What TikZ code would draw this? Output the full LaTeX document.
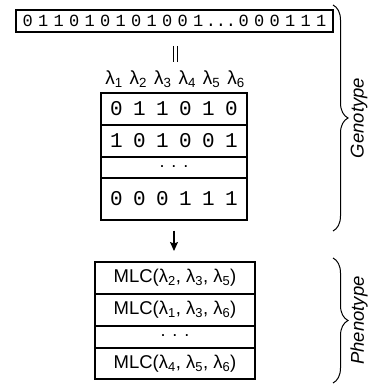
\documentclass[tikz,border=0pt]{standalone}
\usepackage{fontspec}
\setmainfont{Liberation Sans}
\newfontfamily\bitfont{Liberation Mono}
\usetikzlibrary{decorations.pathreplacing,arrows.meta}
\makeatletter
\newcommand\spacedchars[2]{\def\spc@w{#1}\spc@loop#2\relax}
\def\spc@loop#1{\ifx#1\relax\else\makebox[\spc@w]{#1}\expandafter\spc@loop\fi}
\makeatother
\newcommand\lam[1]{\makebox[24.4pt]{λ\textsubscript{#1}}}
\tikzset{
  box/.style={draw, line width=1.1pt, inner sep=0pt},
  genrow/.style={box, minimum width=146pt},
  phenrow/.style={box, minimum width=160pt},
  bits/.style={font=\bitfont\fontsize{21}{23}\selectfont},
  mlc/.style={font=\fontsize{18.5}{20}\selectfont},
  side/.style={font=\itshape\fontsize{18.5}{20}\selectfont, rotate=90},
  brc/.style={decorate, decoration={brace, amplitude=15pt}, line width=1pt},
}
\begin{document}
\begin{tikzpicture}[x=1pt, y=-1pt]
\useasboundingbox (0,0) rectangle (367,387);
% top string
\node[box, minimum width=317pt, minimum height=22pt, font=\bitfont\fontsize{17}{19}\selectfont] (top) at (174.5,21)
  {\spacedchars{15.5pt}{011010101001}\spacedchars{10pt}{...}\spacedchars{15.5pt}{000111}};
% lambda labels
\node[font=\fontsize{19}{21}\selectfont, inner sep=0pt] (lams) at (175,79) {\lam1\lam2\lam3\lam4\lam5\lam6};
\coordinate (eqtopa) at (173,46);
\coordinate (eqbota) at (173,62);
\coordinate (eqtopb) at (177,46);
\coordinate (eqbotb) at (177,62);
\draw[line width=1pt] (eqtopa) -- (eqbota);
\draw[line width=1pt] (eqtopb) -- (eqbotb);
% genotype matrix
\node[genrow, minimum height=32pt, bits] (g1) at (174,109) {\spacedchars{23pt}{011010}};
\node[genrow, minimum height=32pt, bits] (g2) at (174,141) {\spacedchars{23pt}{101001}};
\node[genrow, minimum height=21pt, font=\fontsize{18}{19}\selectfont] (g3) at (174,167.5) {\raisebox{2pt}{\spacedchars{12pt}{...}}};
\node[genrow, minimum height=42pt, bits] (g4) at (174,199) {\spacedchars{23pt}{000111}};
% arrow
\draw[line width=1.1pt, -{Stealth[length=9pt, width=8pt, inset=1.5pt]}, shorten <=10pt, shorten >=11pt] (g4.south) -- (g4.south |- 0,262);
% phenotype
\node[phenrow, minimum height=32pt, mlc] (p1) at (175,278) {MLC(λ\textsubscript{2}, λ\textsubscript{3}, λ\textsubscript{5})};
\node[phenrow, minimum height=32pt, mlc] (p2) at (175,310) {MLC(λ\textsubscript{1}, λ\textsubscript{3}, λ\textsubscript{6})};
\node[phenrow, minimum height=22pt, font=\fontsize{18}{19}\selectfont] (p3) at (175,337) {\raisebox{3pt}{\spacedchars{12pt}{...}}};
\node[phenrow, minimum height=31pt, mlc] (p4) at (175,363.5) {MLC(λ\textsubscript{4}, λ\textsubscript{5}, λ\textsubscript{6})};
% braces
\coordinate (gbt) at (333,5);
\coordinate (gbb) at (333,231);
\coordinate (pbt) at (333,258);
\coordinate (pbb) at (333,383);
\draw[brc] (gbt) -- (gbb);
\draw[brc] (pbt) -- (pbb);
\node[side] (gtxt) at (359,118) {Genotype};
\node[side] (ptxt) at (359,320.5) {Phenotype};
\end{tikzpicture}
\end{document}
